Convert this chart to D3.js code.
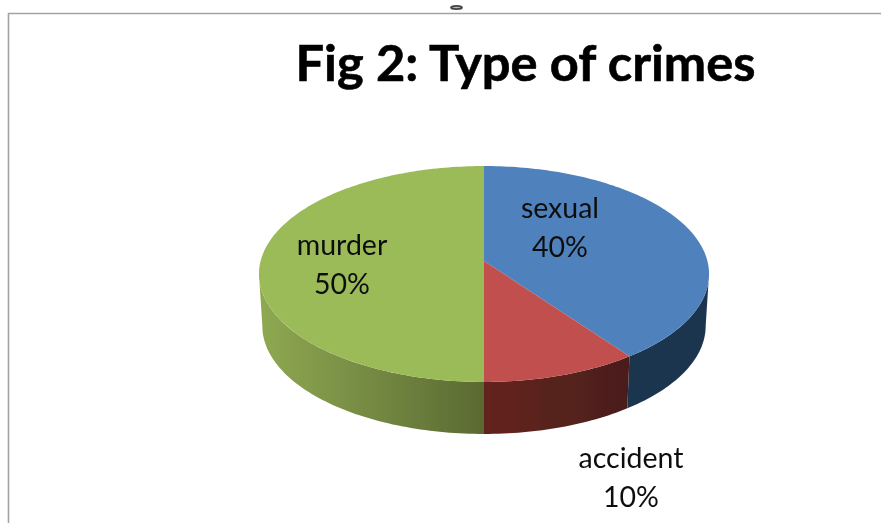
<!DOCTYPE html>
<html>
<head>
<meta charset="utf-8">
<script src="https://cdn.jsdelivr.net/npm/d3@7"></script>
<style>
body { margin: 0; background: #fff; }
svg { display: block; }
text { font-family: Lato, "Open Sans", sans-serif; }
</style>
</head>
<body>
<div id="chart"></div>
<script>
var categories = ["sexual", "accident", "murder"];
var values = [40, 10, 50];
var titleText = "Fig 2: Type of crimes";

var width = 881;
var height = 523;

// office 2007 style colours, top face then side
var topColors = ["#4f81bd", "#c0504d", "#9bbb59"];
var sideColors = [["#1f3450", "#1f3450"], ["#64241f", "#4a1e1b"], ["#8fa952", "#5a6a32"]];
var labelPos = [[560, 218], [631, 468], [342, 255]];

// pie geometry, fitted to the tilted disc
var cx = 484, cy = 261;
var radius = 223.4;
var tiltY = 106.4;
var persp = 0.1204;
var depth = 52;

// only this part of the rim faces the viewer
var rimStart = Math.PI / 2 + Math.asin(persp);
var rimEnd = 3 * Math.PI / 2 - Math.asin(persp);

function project(angle, h) {
    var u = Math.sin(angle);
    var v = -Math.cos(angle);
    var w = 1 - persp * v;
    var s = 1 - 0.015 * h;
    return [cx + s * radius * u / w, cy + tiltY * v / w + h * depth];
}

function arcPoints(a0, a1, h) {
    var n = Math.max(2, Math.ceil(Math.abs(a1 - a0) / 0.02));
    return d3.range(n + 1).map(function (i) {
        return project(a0 + (a1 - a0) * i / n, h);
    });
}

var svg = d3.select("#chart")
    .append("svg")
    .attr("width", width)
    .attr("height", height);

// frame of the cropped chart area
svg.append("path")
    .attr("d", "M8.5,523V13.5H881")
    .attr("fill", "none")
    .attr("stroke", "#a3a3a3")
    .attr("stroke-width", 1.6);

// little leftover mark above the frame
svg.append("ellipse")
    .attr("cx", 456.5)
    .attr("cy", 7.5)
    .attr("rx", 5.5)
    .attr("ry", 1.6)
    .attr("fill", "#bbb")
    .attr("stroke", "#444")
    .attr("stroke-width", 1.8);

var pie = d3.pie().sort(null);
var slices = pie(values);
var line = d3.line();

var defs = svg.append("defs");
defs.append("filter")
    .attr("id", "soft")
    .attr("x", "-5%").attr("y", "-5%").attr("width", "110%").attr("height", "110%")
    .append("feGaussianBlur")
    .attr("stdDeviation", 0.5);

slices.forEach(function (d, i) {
    var grad = defs.append("linearGradient")
        .attr("id", "side" + i);
    grad.append("stop").attr("offset", "0%").attr("stop-color", sideColors[i][0]);
    grad.append("stop").attr("offset", "100%").attr("stop-color", sideColors[i][1]);
});

var pieG = svg.append("g").attr("filter", "url(#soft)");

// side walls first, the top faces paint over the seam
pieG.selectAll("path.side")
    .data(slices)
    .enter()
    .append("path")
    .attr("class", "side")
    .attr("fill", function (d, i) { return "url(#side" + i + ")"; })
    .attr("d", function (d) {
        var a0 = Math.max(d.startAngle, rimStart);
        var a1 = Math.min(d.endAngle, rimEnd);
        var pts = arcPoints(a0, a1, 0).concat(arcPoints(a1, a0, 1));
        return line(pts) + "Z";
    });

pieG.selectAll("path.top")
    .data(slices)
    .enter()
    .append("path")
    .attr("class", "top")
    .attr("fill", function (d, i) { return topColors[i]; })
    .attr("d", function (d) {
        var pts = [[cx, cy]].concat(arcPoints(d.startAngle, d.endAngle, 0));
        return line(pts) + "Z";
    });

var textG = svg.append("g").attr("filter", "url(#soft)");

textG.append("text")
    .attr("x", 525.5)
    .attr("y", 81)
    .attr("text-anchor", "middle")
    .attr("font-size", 50)
    .attr("font-weight", 700)
    .attr("fill", "#000")
    .attr("stroke", "#000")
    .attr("stroke-width", 0.6)
    .attr("textLength", 460)
    .attr("lengthAdjust", "spacingAndGlyphs")
    .text(titleText);

var labels = textG.selectAll("text.label")
    .data(slices)
    .enter()
    .append("text")
    .attr("class", "label")
    .attr("text-anchor", "middle")
    .attr("font-size", 28.5)
    .attr("fill", "#111");

labels.append("tspan")
    .attr("x", function (d, i) { return labelPos[i][0]; })
    .attr("y", function (d, i) { return labelPos[i][1]; })
    .text(function (d, i) { return categories[i]; });

labels.append("tspan")
    .attr("x", function (d, i) { return labelPos[i][0]; })
    .attr("y", function (d, i) { return labelPos[i][1] + 39; })
    .text(function (d) { return d.value + "%"; });
</script>
</body>
</html>
